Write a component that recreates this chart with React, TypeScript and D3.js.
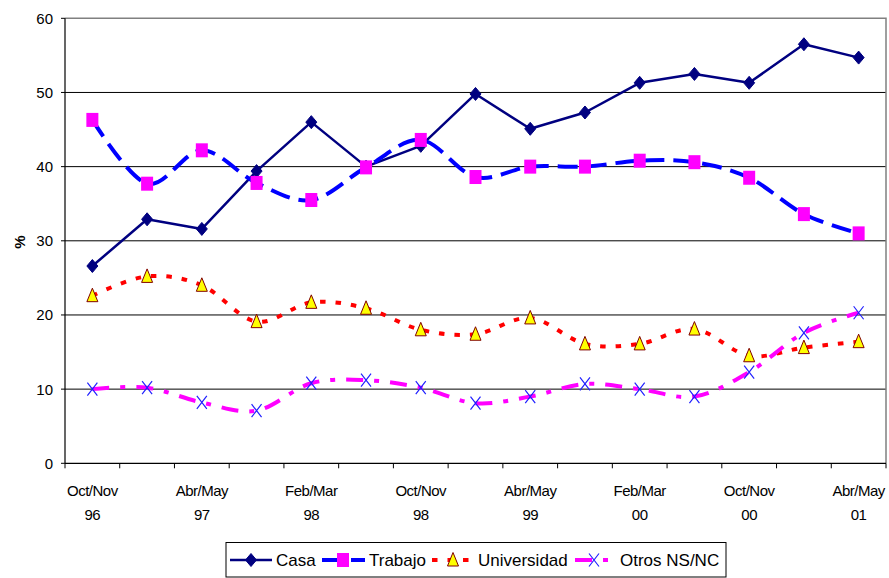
import React from "react";
import * as d3 from "d3";

// Survey waves (x axis)
const categories = [
  "Oct/Nov 96", "Feb/Mar 97", "Abr/May 97", "Oct/Nov 97", "Feb/Mar 98",
  "Abr/May 98", "Oct/Nov 98", "Feb/Mar 99", "Abr/May 99", "Oct/Nov 99",
  "Feb/Mar 00", "Abr/May 00", "Oct/Nov 00", "Feb/Mar 01", "Abr/May 01",
];

// Percentages per series
const casa = [26.6, 32.9, 31.6, 39.4, 46.0, 40.0, 42.8, 49.8, 45.1, 47.3, 51.3, 52.5, 51.3, 56.5, 54.7];
const trabajo = [46.3, 37.7, 42.2, 37.8, 35.5, 39.9, 43.6, 38.6, 40.0, 40.0, 40.8, 40.6, 38.5, 33.6, 31.0];
const universidad = [22.6, 25.2, 24.0, 19.1, 21.7, 20.9, 18.0, 17.4, 19.6, 16.1, 16.1, 18.1, 14.5, 15.6, 16.4];
const otros = [10.0, 10.2, 8.2, 7.1, 10.8, 11.2, 10.2, 8.1, 9.0, 10.7, 10.0, 9.0, 12.3, 17.6, 20.3];

const yTicks = [0, 10, 20, 30, 40, 50, 60];

type MarkerKind = "diamond" | "square" | "triangle" | "cross";

interface Series {
  name: string;
  values: number[];
  stroke: string;
  width: number;
  dash?: string;
  smooth: boolean;
  marker: MarkerKind;
}

const series: Series[] = [
  { name: "Casa", values: casa, stroke: "#000080", width: 2.5, smooth: false, marker: "diamond" },
  { name: "Trabajo", values: trabajo, stroke: "#0000FF", width: 4, dash: "20,9", smooth: true, marker: "square" },
  { name: "Universidad", values: universidad, stroke: "#FF0000", width: 4, dash: "5.5,10", smooth: true, marker: "triangle" },
  { name: "Otros NS/NC", values: otros, stroke: "#FF00FF", width: 4, dash: "17,11,5,11", smooth: true, marker: "cross" },
];

const W = 889;
const H = 578;
const plot = { left: 65, right: 886, top: 18.3, bottom: 463.3 };
const FONT = "'Liberation Sans', Arial, sans-serif";

function Marker({ kind, x, y }: { kind: MarkerKind; x: number; y: number }) {
  switch (kind) {
    case "diamond":
      return (
        <path
          d={`M${x},${y - 6.5}L${x + 5.5},${y}L${x},${y + 6.5}L${x - 5.5},${y}Z`}
          fill="#000080"
          stroke="#000080"
          strokeWidth={1}
        />
      );
    case "square":
      return <rect x={x - 6} y={y - 7} width={12} height={14} fill="#FF00FF" />;
    case "triangle":
      return (
        <path
          d={`M${x},${y - 7.5}L${x + 5.5},${y + 6}L${x - 5.5},${y + 6}Z`}
          fill="#FFFF00"
          stroke="#800000"
          strokeWidth={1}
        />
      );
    case "cross":
      return (
        <path
          d={`M${x - 5},${y - 6.5}L${x + 5},${y + 6.5}M${x - 5},${y + 6.5}L${x + 5},${y - 6.5}`}
          stroke="#2020FF"
          strokeWidth={1.2}
          fill="none"
        />
      );
  }
}

// Legend entries: sample line span, marker centre, text start
const legendItems = [
  { x0: 230, x1: 272, xm: 251, tx: 276 },
  { x0: 322, x1: 365, xm: 343, tx: 369 },
  { x0: 432, x1: 470, xm: 453, tx: 478 },
  { x0: 575, x1: 608, xm: 594, tx: 620 },
];

export default function App() {
  const x = d3
    .scaleBand<number>()
    .domain(categories.map((_, i) => i))
    .range([plot.left, plot.right])
    .padding(0);
  const y = d3.scaleLinear().domain([0, 60]).range([plot.bottom, plot.top]);
  const cx = (i: number) => (x(i) ?? 0) + x.bandwidth() / 2;

  const lineFor = (s: Series) =>
    d3
      .line<number>()
      .x((_, i) => cx(i))
      .y((v) => y(v))
      .curve(s.smooth ? d3.curveCatmullRom.alpha(0) : d3.curveLinear)(s.values) ?? "";

  const boundaries = d3.range(categories.length + 1).map((k) => plot.left + k * x.bandwidth());

  return (
    <svg
      width={W}
      height={H}
      style={{ position: "absolute", left: 0, top: 0, background: "#fff" }}
      fontFamily={FONT}
    >
      {/* horizontal gridlines */}
      {yTicks
        .filter((t) => t > 0 && t < 60)
        .map((t) => (
          <line key={t} x1={plot.left} x2={plot.right} y1={y(t)} y2={y(t)} stroke="#000" strokeWidth={1} />
        ))}
      {/* plot-area border (top & right) */}
      <path
        d={`M${plot.left},${y(60)}L${plot.right},${y(60)}L${plot.right},${plot.bottom}`}
        fill="none"
        stroke="#808080"
        strokeWidth={1.5}
      />

      {/* y axis */}
      <line x1={plot.left} x2={plot.left} y1={plot.top} y2={plot.bottom} stroke="#000" strokeWidth={1.2} />
      {yTicks.map((t) => (
        <g key={t}>
          <line x1={plot.left - 4} x2={plot.left} y1={y(t)} y2={y(t)} stroke="#000" strokeWidth={1} />
          <text x={53} y={y(t)} dy="0.36em" textAnchor="end" fontSize={15} fill="#000">
            {t}
          </text>
        </g>
      ))}
      <text
        transform={`translate(20,242) rotate(-90)`}
        textAnchor="middle"
        dy="0.36em"
        fontSize={15}
        fontWeight="bold"
        fill="#000"
      >
        %
      </text>

      {/* x axis */}
      <line x1={plot.left} x2={plot.right} y1={plot.bottom} y2={plot.bottom} stroke="#000" strokeWidth={1.2} />
      {boundaries.map((bx, k) => (
        <line key={k} x1={bx} x2={bx} y1={plot.bottom} y2={plot.bottom + 5} stroke="#000" strokeWidth={1} />
      ))}
      {categories.map((c, i) => {
        if (i % 2 !== 0) return null;
        const [a, b] = c.split(" ");
        return (
          <g key={c} fontSize={15} fill="#000" textAnchor="middle" letterSpacing={-0.5}>
            <text x={cx(i)} y={490.5} dy="0.36em">
              {a}
            </text>
            <text x={cx(i)} y={515} dy="0.36em">
              {b}
            </text>
          </g>
        );
      })}

      {/* series */}
      {series.map((s) => (
        <g key={s.name}>
          <path
            d={lineFor(s)}
            fill="none"
            stroke={s.stroke}
            strokeWidth={s.width}
            strokeDasharray={s.dash}
            strokeLinejoin="round"
          />
          {s.values.map((v, i) => (
            <Marker key={i} kind={s.marker} x={cx(i)} y={y(v)} />
          ))}
        </g>
      ))}

      {/* legend */}
      <rect x={226} y={542.5} width={500} height={34.5} fill="#fff" stroke="#000" strokeWidth={1} />
      {series.map((s, k) => {
        const it = legendItems[k];
        const ly = 560;
        return (
          <g key={s.name}>
            <line
              x1={it.x0}
              x2={it.x1}
              y1={ly}
              y2={ly}
              stroke={s.stroke}
              strokeWidth={s.width}
              strokeDasharray={s.dash}
            />
            <Marker kind={s.marker} x={it.xm} y={ly} />
            <text x={it.tx} y={ly} dy="0.36em" fontSize={17} fill="#000">
              {s.name}
            </text>
          </g>
        );
      })}
    </svg>
  );
}
